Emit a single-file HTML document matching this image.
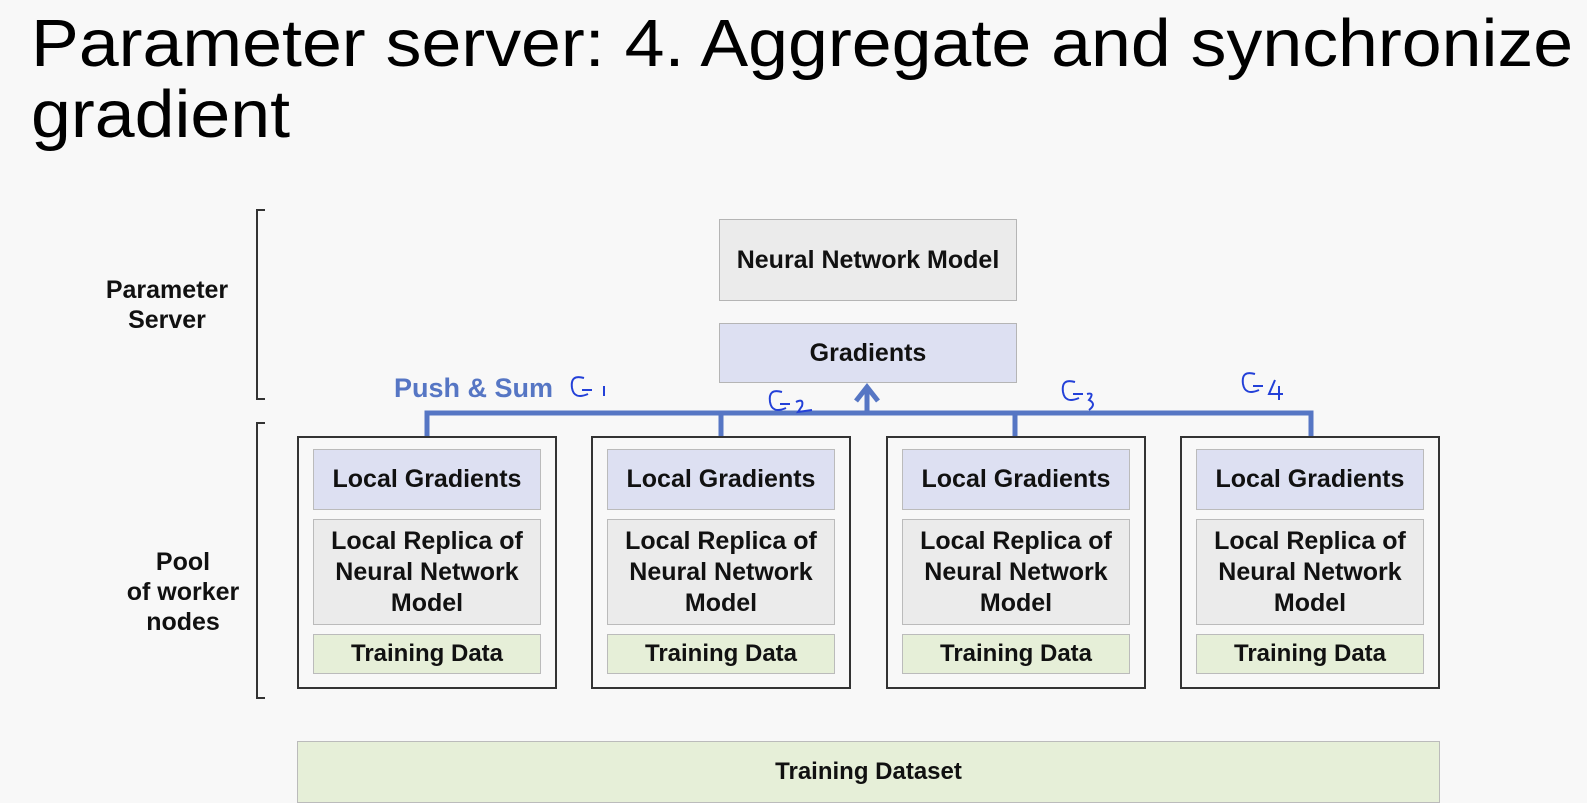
<!DOCTYPE html>
<html><head><meta charset="utf-8"><style>
body{margin:0;width:1587px;height:799px;background:#f8f8f8;position:relative;overflow:hidden;font-family:"Liberation Sans",Arial,sans-serif}
.a{position:absolute;box-sizing:border-box;display:flex;align-items:center;justify-content:center;text-align:center;font-weight:bold;color:#111}
.t{position:absolute;font-size:67px;color:#000;left:31px;line-height:74px;transform:scaleX(1.07);transform-origin:0 0;white-space:nowrap}
.lbl{position:absolute;font-weight:bold;font-size:25px;text-align:center;line-height:30px;color:#111}
</style></head><body>
<div class="t" style="top:7px">Parameter server: 4. Aggregate and synchronize</div>
<div class="t" style="top:78px">gradient</div>

<div class="a" style="left:719px;top:219px;width:298px;height:82px;background:#ebebeb;border:1.5px solid #b5b5b5;font-size:25px">Neural Network Model</div>
<div class="a" style="left:719px;top:323px;width:298px;height:60px;background:#dde0f2;border:1.5px solid #b5b5b5;font-size:25px">Gradients</div>

<svg style="position:absolute;left:0;top:0" width="1587" height="799">
<g stroke="#333" stroke-width="2" fill="none">
<path d="M265 210 H257 V399 H265"/>
<path d="M265 423 H257 V698 H265"/>
</g>
<g stroke="#5676c4" stroke-width="5" fill="none">
<path d="M427 437 V413 H1311 V437"/>
<path d="M721 413 V437 M1015 413 V437"/>
<path d="M867 413 V389"/>
<path d="M856 401 L867 387 L878 401"/>
</g>
<g stroke="#2340d8" stroke-width="2" fill="none">
<path d="M584 378 Q570 374 572 388 Q574 400 588 394 M582 390 L592 390 M604 386 L604 396"/>
<path d="M782 392 Q768 388 770 402 Q772 414 786 408 M780 404 L790 404 M796 402 Q804 398 802 406 L798 412 L812 410"/>
<path d="M1075 382 Q1061 378 1063 392 Q1065 404 1079 398 M1073 394 L1083 394 M1087 394 Q1095 392 1089 400 Q1097 404 1089 410"/>
<path d="M1255 374 Q1241 370 1243 384 Q1245 396 1259 390 M1253 386 L1263 386 M1275 380 L1269 394 L1283 394 M1279 386 L1279 400"/>
</g>
</svg>
<div style="position:absolute;left:394px;top:373px;font-size:27px;font-weight:bold;color:#5676c4">Push &amp; Sum</div>

<div class="lbl" style="left:92px;top:275px;width:150px">Parameter<br>Server</div>
<div class="lbl" style="left:108px;top:547px;width:150px">Pool<br>of worker<br>nodes</div>

<div id="w"></div>
<script>
var xs=[297,591,886,1180],h='';
xs.forEach(function(x){
h+='<div class="a" style="left:'+x+'px;top:436px;width:260px;height:253px;border:2px solid #333;background:#f8f8f8"></div>';
h+='<div class="a" style="left:'+(x+16)+'px;top:449px;width:228px;height:61px;background:#dde0f2;border:1.5px solid #bbb;font-size:25px">Local Gradients</div>';
h+='<div class="a" style="left:'+(x+16)+'px;top:519px;width:228px;height:106px;background:#ebebeb;border:1.5px solid #bbb;font-size:25px;line-height:31px">Local Replica of<br>Neural Network<br>Model</div>';
h+='<div class="a" style="left:'+(x+16)+'px;top:634px;width:228px;height:40px;background:#e6efd8;border:1.5px solid #bbb;font-size:24px">Training Data</div>';
});
document.getElementById('w').innerHTML=h;
</script>
<div class="a" style="left:297px;top:741px;width:1143px;height:62px;background:#e6efd8;border:1.5px solid #bbb;font-size:24px">Training Dataset</div>
</body></html>
